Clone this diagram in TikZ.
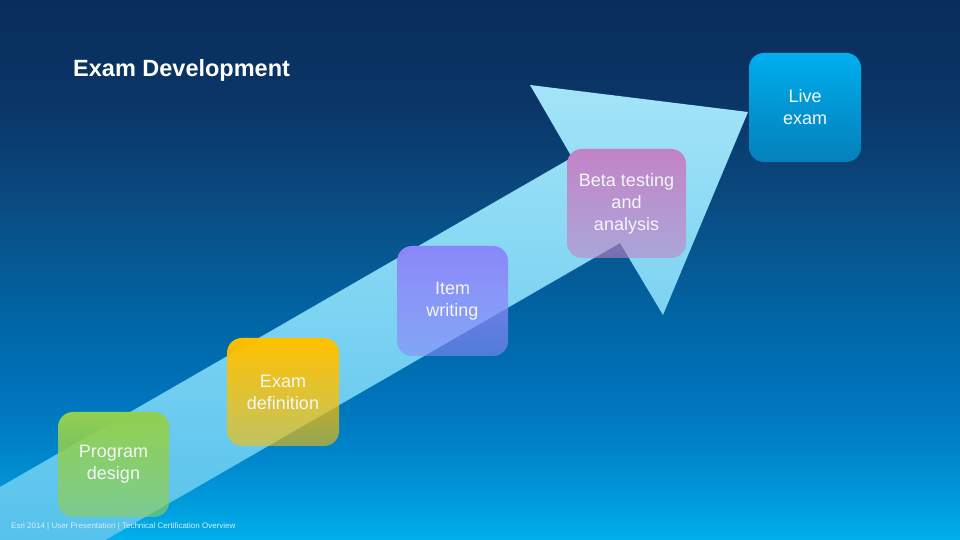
\documentclass[tikz,border=0pt]{standalone}
\usepackage{fontspec}
\setmainfont{Liberation Sans}
\usetikzlibrary{fadings}

\definecolor{bg0}{HTML}{00B0EC}
\definecolor{bg1}{HTML}{009ADA}
\definecolor{bg2}{HTML}{0084CA}
\definecolor{bg3}{HTML}{0074BC}
\definecolor{bg4}{HTML}{0068A8}
\definecolor{bg5}{HTML}{055A96}
\definecolor{bg6}{HTML}{0A4A80}
\definecolor{bg7}{HTML}{0A3566}
\definecolor{bg8}{HTML}{082E5C}
\definecolor{arrbot}{HTML}{56C2EC}
\definecolor{arrtop}{HTML}{A4E4F8}
\definecolor{cgreen}{HTML}{92D050}
\definecolor{cgold}{HTML}{FFC000}
\definecolor{cviolet}{HTML}{8B88FA}
\definecolor{cpink}{HTML}{C283C6}
\definecolor{cblue}{HTML}{00B0F0}
\definecolor{boxtext}{HTML}{F4F6F8}
\definecolor{foottext}{HTML}{D8EEF8}

\pgfdeclareverticalshading{bgsh}{100bp}{color(0bp)=(bg0); color(25bp)=(bg0); color(28.7bp)=(bg1); color(33.35bp)=(bg2); color(37.95bp)=(bg3); color(44.15bp)=(bg4); color(50.3bp)=(bg5); color(56.5bp)=(bg6); color(65.75bp)=(bg7); color(75bp)=(bg8); color(100bp)=(bg8)}
\pgfdeclareverticalshading{arrowsh}{100bp}{color(0bp)=(arrbot); color(25bp)=(arrbot); color(75bp)=(arrtop); color(100bp)=(arrtop)}

\tikzfading[name=boxfade, top color=transparent!0, bottom color=transparent!42]

\begin{document}
\begin{tikzpicture}[x=1pt,y=-1pt,
  stagebox/.style={rounded corners=15pt, inner sep=0pt, align=center,
    text=boxtext, font=\fontsize{18}{22}\selectfont, path fading=boxfade},
  plain/.style={inner sep=0pt, anchor=base west}]
\useasboundingbox (0,0) rectangle (960,540);
\shade[shading=bgsh] (0,0) rectangle (960,540);

% big arrow
\shade[shading=arrowsh] (0,487) -- (572,157.5) -- (530,85) -- (748,112) -- (663,315) -- (620,243) -- (105.4,540) -- (0,540) -- cycle;

% stages
\node[stagebox, fill=cgreen, minimum width=111pt, minimum height=105pt] (pd) at (113.5,464.5) {Program\\design};
\node[stagebox, fill=cgold, minimum width=112pt, minimum height=108pt] (ed) at (283,392) {Exam\\definition};
\node[stagebox, fill=cviolet, minimum width=111pt, minimum height=110pt] (iw) at (452.5,301) {Item\\writing};
\node[stagebox, fill=cpink, minimum width=119pt, minimum height=109pt] (bt) at (626.5,203.5) {Beta testing\\and\\analysis};
\node[stagebox, fill=cblue, minimum width=112pt, minimum height=109pt] (le) at (805,107.5) {Live\\exam};

% texts
\node[plain, text=white, font=\fontsize{23.5}{28}\selectfont\bfseries] (title) at (73,77) {Exam Development};
\node[plain, text=foottext, font=\fontsize{8}{10}\selectfont] (foot) at (11,528) {Esri 2014 | User Presentation | Technical Certification Overview};
\end{tikzpicture}
\end{document}
